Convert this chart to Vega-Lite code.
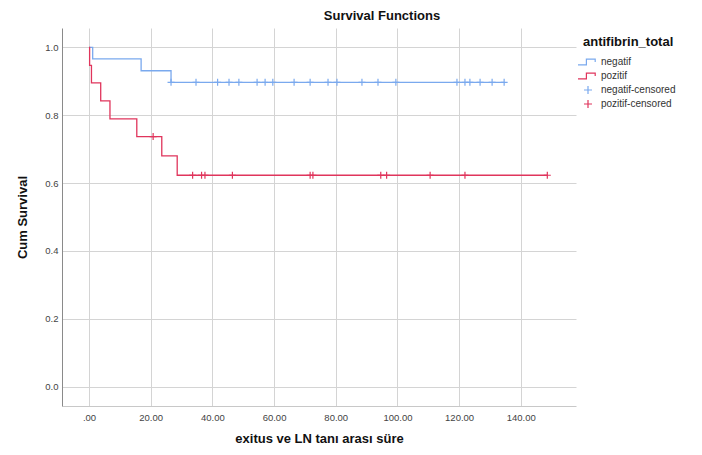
{
  "$schema": "https://vega.github.io/schema/vega-lite/v6.json",
  "autosize": "none",
  "width": 514,
  "height": 378,
  "padding": {"left": 62, "top": 28, "right": 126, "bottom": 49},
  "background": "white",
  "config": {
    "font": "Liberation Sans",
    "view": {"stroke": null},
    "axis": {
      "labelFont": "Liberation Sans",
      "titleFont": "Liberation Sans",
      "labelFontSize": 9.5,
      "labelColor": "#444444",
      "titleFontSize": 13,
      "titleFontWeight": "bold",
      "titleColor": "#111111",
      "gridColor": "#d4d4d4",
      "gridWidth": 1,
      "ticks": false
    }
  },
  "title": {
    "text": "Survival Functions",
    "fontSize": 13,
    "fontWeight": "bold",
    "color": "#111111",
    "anchor": "middle",
    "dx": 63,
    "offset": 5
  },
  "data": {
    "values": [
      {"grp": "negatif", "t": 0, "s": 1},
      {"grp": "negatif", "t": 1.2, "s": 0.966},
      {"grp": "negatif", "t": 16.9, "s": 0.931},
      {"grp": "negatif", "t": 26.6, "s": 0.897},
      {"grp": "negatif", "t": 134.6, "s": 0.897},
      {"grp": "pozitif", "t": 0, "s": 1},
      {"grp": "pozitif", "t": 0.2, "s": 0.947},
      {"grp": "pozitif", "t": 0.8, "s": 0.895},
      {"grp": "pozitif", "t": 3.8, "s": 0.842},
      {"grp": "pozitif", "t": 6.8, "s": 0.789},
      {"grp": "pozitif", "t": 15.5, "s": 0.737},
      {"grp": "pozitif", "t": 23.6, "s": 0.68},
      {"grp": "pozitif", "t": 28.6, "s": 0.623},
      {"grp": "pozitif", "t": 148.6, "s": 0.623},
      {"grp": "negatif-censored", "t": 26.6, "s": 0.897},
      {"grp": "negatif-censored", "t": 34.7, "s": 0.897},
      {"grp": "negatif-censored", "t": 41.7, "s": 0.897},
      {"grp": "negatif-censored", "t": 45.4, "s": 0.897},
      {"grp": "negatif-censored", "t": 48.6, "s": 0.897},
      {"grp": "negatif-censored", "t": 54.5, "s": 0.897},
      {"grp": "negatif-censored", "t": 57.1, "s": 0.897},
      {"grp": "negatif-censored", "t": 59.6, "s": 0.897},
      {"grp": "negatif-censored", "t": 66.5, "s": 0.897},
      {"grp": "negatif-censored", "t": 71.7, "s": 0.897},
      {"grp": "negatif-censored", "t": 77.5, "s": 0.897},
      {"grp": "negatif-censored", "t": 80.4, "s": 0.897},
      {"grp": "negatif-censored", "t": 88.5, "s": 0.897},
      {"grp": "negatif-censored", "t": 93.7, "s": 0.897},
      {"grp": "negatif-censored", "t": 99.5, "s": 0.897},
      {"grp": "negatif-censored", "t": 119.3, "s": 0.897},
      {"grp": "negatif-censored", "t": 121.9, "s": 0.897},
      {"grp": "negatif-censored", "t": 123.5, "s": 0.897},
      {"grp": "negatif-censored", "t": 126.8, "s": 0.897},
      {"grp": "negatif-censored", "t": 130.7, "s": 0.897},
      {"grp": "negatif-censored", "t": 134.6, "s": 0.897},
      {"grp": "pozitif-censored", "t": 20.8, "s": 0.737},
      {"grp": "pozitif-censored", "t": 33.6, "s": 0.623},
      {"grp": "pozitif-censored", "t": 36.5, "s": 0.623},
      {"grp": "pozitif-censored", "t": 37.6, "s": 0.623},
      {"grp": "pozitif-censored", "t": 46.5, "s": 0.623},
      {"grp": "pozitif-censored", "t": 71.7, "s": 0.623},
      {"grp": "pozitif-censored", "t": 72.6, "s": 0.623},
      {"grp": "pozitif-censored", "t": 94.6, "s": 0.623},
      {"grp": "pozitif-censored", "t": 96.5, "s": 0.623},
      {"grp": "pozitif-censored", "t": 110.6, "s": 0.623},
      {"grp": "pozitif-censored", "t": 121.9, "s": 0.623},
      {"grp": "pozitif-censored", "t": 148.6, "s": 0.623}
    ]
  },
  "encoding": {
    "x": {
      "field": "t",
      "type": "quantitative",
      "title": "exitus ve LN tanı arası süre",
      "scale": {"domain": [-8.75, 157.9], "nice": false, "zero": false},
      "axis": {
        "values": [0, 20, 40, 60, 80, 100, 120, 140],
        "labelExpr": "datum.value == 0 ? '.00' : format(datum.value, '.2f')",
        "domainColor": "#c8c8c8",
        "labelPadding": 6,
        "titlePadding": 11
      }
    },
    "y": {
      "field": "s",
      "type": "quantitative",
      "title": "Cum Survival",
      "scale": {"domain": [-0.057, 1.057], "nice": false, "zero": false},
      "axis": {
        "values": [0, 0.2, 0.4, 0.6, 0.8, 1],
        "format": ".1f",
        "domainColor": "#8a8a8a",
        "labelPadding": 4,
        "titlePadding": 15
      }
    }
  },
  "layer": [
    {
      "transform": [{"filter": "datum.grp == 'negatif'"}],
      "mark": {"type": "line", "interpolate": "step-after", "color": "#7aa9ee", "strokeWidth": 1.3}
    },
    {
      "transform": [{"filter": "datum.grp == 'pozitif'"}],
      "mark": {"type": "line", "interpolate": "step-after", "color": "#e0355c", "strokeWidth": 1.3}
    },
    {
      "transform": [{"filter": "indexof(datum.grp, 'censored') > 0"}],
      "mark": {"type": "point", "filled": false, "size": 49, "strokeWidth": 1.2, "opacity": 1},
      "encoding": {
        "color": {
          "field": "grp",
          "type": "nominal",
          "scale": {
            "domain": ["negatif", "pozitif", "negatif-censored", "pozitif-censored"],
            "range": ["#7aa9ee", "#e0355c", "#7aa9ee", "#e0355c"]
          },
          "legend": {
            "title": "antifibrin_total",
            "orient": "none",
            "legendX": 521,
            "legendY": 8,
            "titleFontSize": 13,
            "titleFontWeight": "bold",
            "titleColor": "#111111",
            "titlePadding": 8,
            "labelFontSize": 10,
            "labelColor": "#333333",
            "labelOffset": 8,
            "symbolSize": 64,
            "symbolStrokeWidth": 1.2,
            "rowPadding": 0
          }
        },
        "shape": {
          "field": "grp",
          "type": "nominal",
          "scale": {
            "domain": ["negatif", "pozitif", "negatif-censored", "pozitif-censored"],
            "range": ["M-2.5,0.7H-0.4V-0.7H1.8V0M0,-1M0,1", "M-2.5,0.7H-0.4V-0.7H1.8V0M0,-1M0,1", "M0,-1V1M-1,0H1", "M0,-1V1M-1,0H1"]
          },
          "legend": {
            "title": "antifibrin_total",
            "orient": "none",
            "legendX": 521,
            "legendY": 8,
            "titleFontSize": 13,
            "titleFontWeight": "bold",
            "titleColor": "#111111",
            "titlePadding": 8,
            "labelFontSize": 10,
            "labelColor": "#333333",
            "labelOffset": 8,
            "symbolSize": 64,
            "symbolStrokeWidth": 1.2,
            "rowPadding": 0
          }
        }
      }
    }
  ]
}
